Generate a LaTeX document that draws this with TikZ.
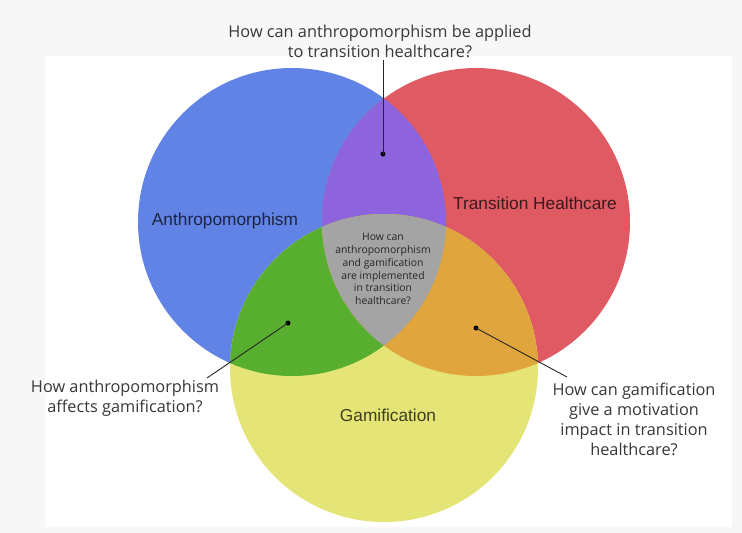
\documentclass[tikz,border=0pt]{standalone}
\usepackage{fontspec}
\setmainfont{Open Sans}
\newfontfamily\labfont{Liberation Sans}
\definecolor{bgray}{HTML}{F7F7F7}
\definecolor{cblue}{HTML}{6283E6}
\definecolor{cred}{HTML}{E05A64}
\definecolor{cyellow}{HTML}{E4E576}
\definecolor{cpurple}{HTML}{8E63DE}
\definecolor{cgreen}{HTML}{58AE2E}
\definecolor{corange}{HTML}{E0A53C}
\definecolor{cgray}{HTML}{A4A4A4}
\definecolor{qtext}{HTML}{383838}
\tikzset{
  question/.style={align=center, text=qtext, font=\fontsize{16.3}{20}\selectfont, inner sep=0pt},
  setlabel/.style={text=black, text opacity=0.72, font=\labfont\fontsize{17.3}{20}\selectfont, inner sep=0pt},
  coretext/.style={align=center, text=black!85, font=\fontsize{10.4}{12.8}\selectfont, inner sep=0pt},
  pin dot/.style={circle, fill=black, minimum size=5pt, inner sep=0pt},
  leader/.style={draw=black!85, line width=0.9pt}
}
\begin{document}
\begin{tikzpicture}[x=1pt,y=-1pt]
\useasboundingbox (0,0) rectangle (742,533);
\fill[bgray] (0,0) rectangle (742,533);
\fill[white] (45,56) rectangle (732,527);
% circles
\def\R{154}
\fill[cblue] (292,222) circle (\R);
\fill[cred] (476,222) circle (\R);
\fill[cyellow] (384,368) circle (\R);
\begin{scope}
  \clip (292,222) circle (\R);
  \fill[cpurple] (476,222) circle (\R);
  \fill[cgreen] (384,368) circle (\R);
  \clip (476,222) circle (\R);
  \fill[cgray] (384,368) circle (\R);
\end{scope}
\begin{scope}
  \clip (476,222) circle (\R);
  \clip (384,368) circle (\R);
  \fill[corange] (384,368) circle (\R);
  \clip (292,222) circle (\R);
  \fill[cgray] (384,368) circle (\R);
\end{scope}
% set labels
\node[setlabel] (anthro) at (225,221) {Anthropomorphism};
\node[setlabel] (trans) at (535,203) {Transition Healthcare};
\node[setlabel] (gami) at (388,415) {Gamification};
% centre text
\node[coretext] (core) at (383,269) {How can\\anthropomorphism\\and gamification\\are implemented\\in transition\\healthcare?};
% questions
\node[question] (qtop) at (380,41) {How can anthropomorphism be applied\\to transition healthcare?};
\node[question] (qleft) at (125,398) {How anthropomorphism\\affects gamification?};
\node[question] (qright) at (634,419) {How can gamification\\give a motivation\\impact in transition\\healthcare?};
% dots and leaders
\node[pin dot] (dtop) at (383,154) {};
\node[pin dot] (dleft) at (288,323) {};
\node[pin dot] (dright) at (476,328) {};
\coordinate (etop) at (383,60);
\coordinate (eleft) at (207,378);
\coordinate (eright) at (567,377);
\draw[leader] (dtop.center) -- (etop);
\draw[leader] (dleft.center) -- (eleft);
\draw[leader] (dright.center) -- (eright);
\end{tikzpicture}
\end{document}
